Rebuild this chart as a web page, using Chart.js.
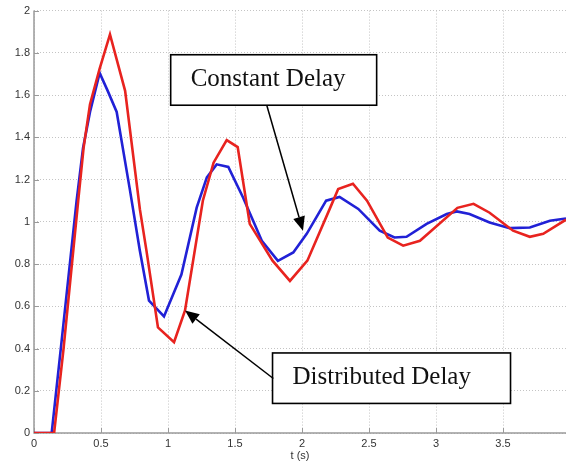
<!DOCTYPE html>
<html>
<head>
<meta charset="utf-8">
<script src="https://cdn.jsdelivr.net/npm/chart.js@4.4.1/dist/chart.umd.min.js"></script>
<style>
  html, body { margin: 0; padding: 0; background: #fff; }
  #wrap { width: 566px; height: 467px; }
</style>
</head>
<body>
<div id="wrap"><canvas id="step-response" width="566" height="467"></canvas></div>
<script>
// constant delay response (red)
var constT = [0, 0.15, 0.219, 0.33, 0.37, 0.418, 0.49, 0.567, 0.68, 0.79, 0.84, 0.925, 1.045, 1.127, 1.26, 1.34, 1.438, 1.52, 1.61, 1.78, 1.91, 2.04, 2.21, 2.27, 2.38, 2.485, 2.64, 2.755, 2.88, 3.16, 3.28, 3.40, 3.575, 3.70, 3.80, 3.97];
var constY = [0, 0, 0.39, 1.10, 1.35, 1.557, 1.725, 1.887, 1.62, 1.06, 0.86, 0.50, 0.43, 0.58, 1.10, 1.28, 1.387, 1.354, 0.99, 0.816, 0.72, 0.816, 1.066, 1.155, 1.18, 1.10, 0.925, 0.887, 0.91, 1.066, 1.085, 1.043, 0.958, 0.929, 0.943, 1.01];

// distributed delay response (blue)
var distT = [0, 0.132, 0.2, 0.318, 0.366, 0.418, 0.49, 0.55, 0.617, 0.716, 0.79, 0.858, 0.97, 1.10, 1.214, 1.29, 1.363, 1.45, 1.56, 1.70, 1.82, 1.935, 2.035, 2.18, 2.28, 2.42, 2.58, 2.69, 2.78, 2.93, 3.08, 3.155, 3.25, 3.40, 3.55, 3.70, 3.85, 3.97];
var distY = [0, 0, 0.40, 1.10, 1.35, 1.52, 1.705, 1.62, 1.52, 1.15, 0.863, 0.627, 0.552, 0.75, 1.067, 1.21, 1.272, 1.26, 1.115, 0.91, 0.815, 0.855, 0.943, 1.10, 1.118, 1.061, 0.958, 0.926, 0.929, 0.99, 1.037, 1.049, 1.037, 0.997, 0.97, 0.973, 1.005, 1.016];

var tMax = 3.97;

// callout boxes, in data units: box corners, arrow start and tip
var callouts = [
  { text: 'Constant Delay', box: [1.02, 1.791, 2.557, 1.552], from: [1.737, 1.552], to: [2.007, 0.958] },
  { text: 'Distributed Delay', box: [1.78, 0.379, 3.556, 0.14], from: [1.786, 0.258], to: [1.127, 0.58] }
];

function toPoints(xs, ys) {
  return xs.map(function (x, i) { return { x: x, y: ys[i] }; });
}

// matlab style labels: 2, 1.8, ... 1, 0.5
function plainLabel(v) {
  return String(Math.round(v * 100) / 100);
}

var axesPlugin = {
  id: 'matlabAxes',
  beforeDatasetsDraw: function (chart) {
    var ctx = chart.ctx, xs = chart.scales.x, ys = chart.scales.y;
    var area = chart.chartArea;
    ctx.save();
    // solid axis lines and small inward ticks
    ctx.strokeStyle = '#9a9a9a';
    ctx.lineWidth = 1.5;
    ctx.beginPath();
    ctx.moveTo(area.left, area.top); ctx.lineTo(area.left, area.bottom); ctx.lineTo(area.right, area.bottom);
    ctx.stroke();
    ctx.lineWidth = 1;
    xs.ticks.forEach(function (t) {
      var px = Math.round(xs.getPixelForValue(t.value)) + 0.5;
      ctx.beginPath(); ctx.moveTo(px, area.bottom); ctx.lineTo(px, area.bottom - 5); ctx.stroke();
    });
    ys.ticks.forEach(function (t) {
      var py = Math.round(ys.getPixelForValue(t.value)) + 0.5;
      ctx.beginPath(); ctx.moveTo(area.left, py); ctx.lineTo(area.left + 5, py); ctx.stroke();
    });
    ctx.restore();
  }
};

var calloutPlugin = {
  id: 'callouts',
  afterDatasetsDraw: function (chart) {
    var ctx = chart.ctx, xs = chart.scales.x, ys = chart.scales.y;
    ctx.save();
    callouts.forEach(function (c) {
      var x1 = xs.getPixelForValue(c.box[0]), y1 = ys.getPixelForValue(c.box[1]);
      var x2 = xs.getPixelForValue(c.box[2]), y2 = ys.getPixelForValue(c.box[3]);
      ctx.fillStyle = '#fff';
      ctx.fillRect(x1, y1, x2 - x1, y2 - y1);
      ctx.strokeStyle = '#000';
      ctx.lineWidth = 1.6;
      ctx.strokeRect(x1, y1, x2 - x1, y2 - y1);

      ctx.fillStyle = '#111';
      ctx.font = '25px "Liberation Serif", "Times New Roman", serif';
      ctx.textBaseline = 'middle';
      ctx.textAlign = 'left';
      ctx.fillText(c.text, x1 + 20, (y1 + y2) / 2 - 1);

      // arrow
      var ax = xs.getPixelForValue(c.from[0]), ay = ys.getPixelForValue(c.from[1]);
      var bx = xs.getPixelForValue(c.to[0]), by = ys.getPixelForValue(c.to[1]);
      var ang = Math.atan2(by - ay, bx - ax);
      var headLen = 14, headW = 6;
      var hx = bx - headLen * Math.cos(ang), hy = by - headLen * Math.sin(ang);
      ctx.strokeStyle = '#000';
      ctx.lineWidth = 1.5;
      ctx.beginPath(); ctx.moveTo(ax, ay); ctx.lineTo(hx, hy); ctx.stroke();
      ctx.fillStyle = '#000';
      ctx.beginPath();
      ctx.moveTo(bx, by);
      ctx.lineTo(hx + headW * Math.sin(ang), hy - headW * Math.cos(ang));
      ctx.lineTo(hx - headW * Math.sin(ang), hy + headW * Math.cos(ang));
      ctx.closePath();
      ctx.fill();
    });
    ctx.restore();
  }
};

var tickFont = { family: '"Liberation Sans", Arial, sans-serif', size: 11 };

new Chart(document.getElementById('step-response'), {
  type: 'line',
  data: {
    datasets: [
      {
        label: 'Constant Delay',
        data: toPoints(constT, constY),
        borderColor: '#e8231f',
        borderWidth: 2.6,
        pointRadius: 0,
        tension: 0,
        fill: false
      },
      {
        label: 'Distributed Delay',
        data: toPoints(distT, distY),
        borderColor: '#2121d6',
        borderWidth: 2.6,
        pointRadius: 0,
        tension: 0,
        fill: false
      }
    ]
  },
  options: {
    responsive: false,
    animation: false,
    layout: { padding: { top: 9, right: 0, bottom: 0, left: 0 } },
    plugins: { legend: { display: false }, tooltip: { enabled: false } },
    scales: {
      x: {
        type: 'linear',
        min: 0,
        max: tMax,
        afterFit: function (scale) { scale.height = 34; },
        ticks: {
          stepSize: 0.5,
          includeBounds: false,
          padding: 4,
          color: '#333',
          font: tickFont,
          maxRotation: 0,
          callback: plainLabel
        },
        grid: { color: '#c4c4c4', drawTicks: false },
        border: { display: false, dash: [1, 2] },
        title: {
          display: true,
          text: 't (s)',
          color: '#333',
          font: tickFont,
          padding: { top: 0, bottom: 4 }
        }
      },
      y: {
        min: 0,
        max: 2,
        afterFit: function (scale) { scale.width = 34; },
        ticks: {
          stepSize: 0.2,
          padding: 4,
          color: '#333',
          font: tickFont,
          callback: plainLabel
        },
        grid: { color: '#c4c4c4', drawTicks: false },
        border: { display: false, dash: [1, 2] }
      }
    }
  },
  plugins: [axesPlugin, calloutPlugin]
});
</script>
</body>
</html>
